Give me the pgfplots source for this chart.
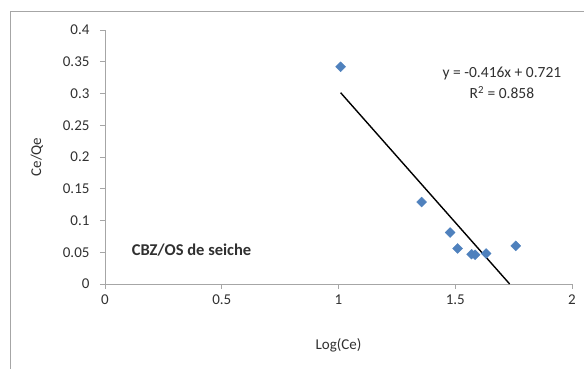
\documentclass[border=0pt]{standalone}
\usepackage{pgfplots}
\pgfplotsset{compat=1.18}
\usepackage{fontspec}
\setmainfont{Carlito}
\definecolor{excelblue}{HTML}{4F81BD}
\definecolor{framegray}{HTML}{A6A6A6}
\definecolor{txt}{HTML}{303030}
\begin{document}
\begin{tikzpicture}[x=1pt,y=1pt]
\path[use as bounding box] (0,0) rectangle (584,369);
\draw[framegray, line width=1pt] (10,0) -- (10,357) -- (584,357);
\begin{axis}[
  at={(105pt,85pt)}, anchor=south west,
  scale only axis, width=467pt, height=254pt,
  xmin=0, xmax=2, ymin=0, ymax=0.4,
  xtick={0,0.5,1,1.5,2}, ytick={0,0.05,...,0.4},
  axis x line*=bottom, axis y line*=left,
  axis line style={framegray, line width=0.8pt},
  tick style={framegray, line width=0.8pt},
  tick align=outside, major tick length=5pt,
  /pgf/number format/assume math mode=true,
  yticklabel style={/pgf/number format/fixed, /pgf/number format/precision=2, font=\fontsize{15}{17}\selectfont, text=txt, xshift=-7pt},
  xticklabel style={font=\fontsize{15}{17}\selectfont, text=txt, yshift=-2pt},
  scaled y ticks=false,
  xlabel={Log(Ce)}, ylabel={Ce/Qe},
  xlabel style={font=\fontsize{15}{17}\selectfont, text=txt, yshift=-27pt},
  ylabel style={font=\fontsize{15}{17}\selectfont, text=txt, yshift=13pt},
  clip=false,
]
\addplot[only marks, mark=square*, mark size=3.5pt, mark options={rotate=45, fill=excelblue, draw=excelblue}]
coordinates {
(1.009,0.342)
(1.356,0.129)
(1.478,0.081)
(1.510,0.056)
(1.570,0.047)
(1.585,0.046)
(1.632,0.048)
(1.759,0.060)
};
\addplot[black, line width=1.4pt] coordinates {(1.009,0.3013) (1.733,0)};
\node[anchor=west, font=\fontsize{16.5}{19}\selectfont\bfseries, text=txt] at (axis cs:0.10,0.0535) {CBZ/OS de seiche};
\node[font=\fontsize{15.5}{18}\selectfont, text=txt] at (axis cs:1.70,0.332) {y = -0.416x + 0.721};
\node[font=\fontsize{15.5}{18}\selectfont, text=txt] at (axis cs:1.70,0.302) {R\textsuperscript{2} = 0.858};
\end{axis}
\end{tikzpicture}
\end{document}
